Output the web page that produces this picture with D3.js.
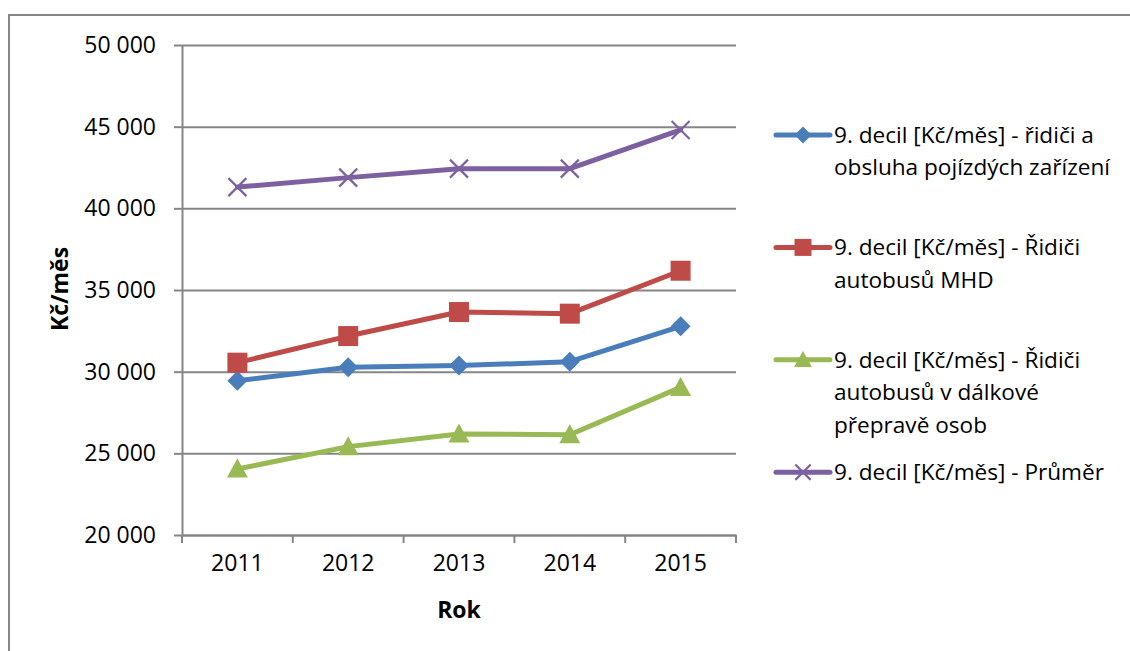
<!DOCTYPE html>
<html>
<head>
  <meta charset="utf-8">
  <style>
    * { margin: 0; padding: 0; box-sizing: border-box; }
    body { background: #fff; font-family: 'Open Sans', sans-serif; }
    svg { display: block; }
  </style>
</head>
<body>
  <div id="chart"></div>
  <script src="https://cdn.jsdelivr.net/npm/d3@7"></script>
  <script>
    // data
    const years = ['2011', '2012', '2013', '2014', '2015'];
    const ridiciObsluha = [29450, 30270, 30370, 30610, 32780];
    const ridiciMhd = [30550, 32180, 33650, 33550, 36180];
    const ridiciDalkove = [24040, 25410, 26180, 26140, 29040];
    const prumer = [41300, 41880, 42430, 42430, 44800];
    const seriesNames = [
      ['9. decil [Kč/měs] - řidiči a', 'obsluha pojízdých zařízení'],
      ['9. decil [Kč/měs] - Řidiči', 'autobusů MHD'],
      ['9. decil [Kč/měs] - Řidiči', 'autobusů v dálkové', 'přepravě osob'],
      ['9. decil [Kč/měs] - Průměr']
    ];
    const yTicks = [20000, 25000, 30000, 35000, 40000, 45000, 50000];
    const yTitle = 'Kč/měs';
    const xTitle = 'Rok';

    (function() {
      const width = 1130, height = 651;
      const left = 182, right = 736, top = 45, bottom = 535;
      const gridColor = '#868686';

      const series = [
        { values: ridiciObsluha, color: '#4A7EBB', marker: 'diamond' },
        { values: ridiciMhd, color: '#BE4B48', marker: 'square' },
        { values: ridiciDalkove, color: '#98B954', marker: 'triangle' },
        { values: prumer, color: '#7D60A0', marker: 'x' }
      ];

      const x = d3.scaleBand().domain(years).range([left, right]);
      const y = d3.scaleLinear().domain([20000, 50000]).range([bottom, top]);
      const fmt = function(v) { return d3.format(',')(v).replace(/,/g, ' '); };

      const svg = d3.select('#chart').append('svg')
        .attr('width', width).attr('height', height)
        .attr('viewBox', [0, 0, width, height]);

      // outer chart frame (cut by the window on the right and bottom)
      svg.append('rect')
        .attr('x', 9).attr('y', 15).attr('width', 1140).attr('height', 700)
        .attr('fill', 'none').attr('stroke', gridColor).attr('stroke-width', 2);

      // y axis with gridlines
      const yAxis = svg.append('g')
        .attr('transform', 'translate(' + left + ',0)')
        .call(d3.axisLeft(y).tickValues(yTicks).tickFormat(fmt)
          .tickSizeInner(-(right - left)).tickSizeOuter(0).tickPadding(26));
      yAxis.select('.domain').attr('stroke', gridColor).attr('stroke-width', 2);
      yAxis.selectAll('.tick line').attr('stroke', gridColor).attr('stroke-width', 2);
      yAxis.selectAll('.tick').append('line')
        .attr('x1', -8).attr('x2', 0)
        .attr('stroke', gridColor).attr('stroke-width', 2);
      yAxis.selectAll('.tick text')
        .attr('font-family', 'Open Sans').attr('font-size', 23).attr('fill', '#000');

      // x axis, ticks between categories
      const xAxis = svg.append('g')
        .attr('transform', 'translate(0,' + bottom + ')')
        .call(d3.axisBottom(x).tickSize(0).tickPadding(20));
      xAxis.select('.domain').attr('stroke', gridColor).attr('stroke-width', 2);
      xAxis.selectAll('.tick text')
        .attr('font-family', 'Open Sans').attr('font-size', 23).attr('fill', '#000');
      xAxis.selectAll('line.sep')
        .data(years.concat(['end']))
        .join('line').attr('class', 'sep')
        .attr('x1', function(d) { return d === 'end' ? right : x(d); })
        .attr('x2', function(d) { return d === 'end' ? right : x(d); })
        .attr('y1', 0).attr('y2', 8)
        .attr('stroke', gridColor).attr('stroke-width', 2);

      // axis titles
      svg.append('text')
        .attr('transform', 'translate(68,' + ((top + bottom) / 2 - 1) + ') rotate(-90)')
        .attr('text-anchor', 'middle')
        .attr('font-family', 'Open Sans').attr('font-weight', 'bold').attr('font-size', 23)
        .text(yTitle);
      svg.append('text')
        .attr('x', (left + right) / 2).attr('y', 618)
        .attr('text-anchor', 'middle')
        .attr('font-family', 'Open Sans').attr('font-weight', 'bold').attr('font-size', 23)
        .text(xTitle);

      function markerPath(type, k) {
        k = k || 1;
        if (type === 'diamond') {
          const r = 10 * k;
          return 'M0,' + (-r) + 'L' + r + ',0L0,' + r + 'L' + (-r) + ',0Z';
        }
        if (type === 'square') {
          const s = 10 * k;
          return 'M' + (-s) + ',' + (-s) + 'H' + s + 'V' + s + 'H' + (-s) + 'Z';
        }
        if (type === 'triangle') {
          const w = 10.5 * k, h = 19 * k;
          return 'M0,' + (-h * 0.55) + 'L' + w + ',' + (h * 0.45) + 'L' + (-w) + ',' + (h * 0.45) + 'Z';
        }
        const r = 9 * k;
        return 'M' + (-r) + ',' + (-r) + 'L' + r + ',' + r + 'M' + (-r) + ',' + r + 'L' + r + ',' + (-r);
      }

      function drawMarker(g, s, k) {
        const p = g.append('path').attr('d', markerPath(s.marker, k));
        if (s.marker === 'x') p.attr('fill', 'none').attr('stroke', s.color).attr('stroke-width', 2.2);
        else p.attr('fill', s.color);
      }

      const line = d3.line()
        .x(function(d, i) { return x(years[i]) + x.bandwidth() / 2; })
        .y(function(d) { return y(d); });

      series.forEach(function(s) {
        svg.append('path')
          .attr('d', line(s.values))
          .attr('fill', 'none').attr('stroke', s.color)
          .attr('stroke-width', 5).attr('stroke-linejoin', 'round').attr('stroke-linecap', 'round');
        s.values.forEach(function(v, i) {
          const g = svg.append('g')
            .attr('transform', 'translate(' + (x(years[i]) + x.bandwidth() / 2) + ',' + y(v) + ')');
          drawMarker(g, s, 1);
        });
      });

      // legend
      const legend = svg.append('g');
      series.forEach(function(s, i) {
        const cy = 135 + i * 112.4;
        const g = legend.append('g').attr('transform', 'translate(0,' + cy + ')');
        g.append('line')
          .attr('x1', 776).attr('x2', 830).attr('y1', 0).attr('y2', 0)
          .attr('stroke', s.color).attr('stroke-width', 5).attr('stroke-linecap', 'round');
        const mg = g.append('g').attr('transform', 'translate(803,0)');
        drawMarker(mg, s, 0.85);
        seriesNames[i].forEach(function(txt, j) {
          g.append('text')
            .attr('x', 834).attr('y', j * 32.5).attr('dy', '0.35em')
            .attr('font-family', 'Open Sans').attr('font-size', 22.6).attr('fill', '#000')
            .text(txt);
        });
      });
    })();
  </script>
</body>
</html>
